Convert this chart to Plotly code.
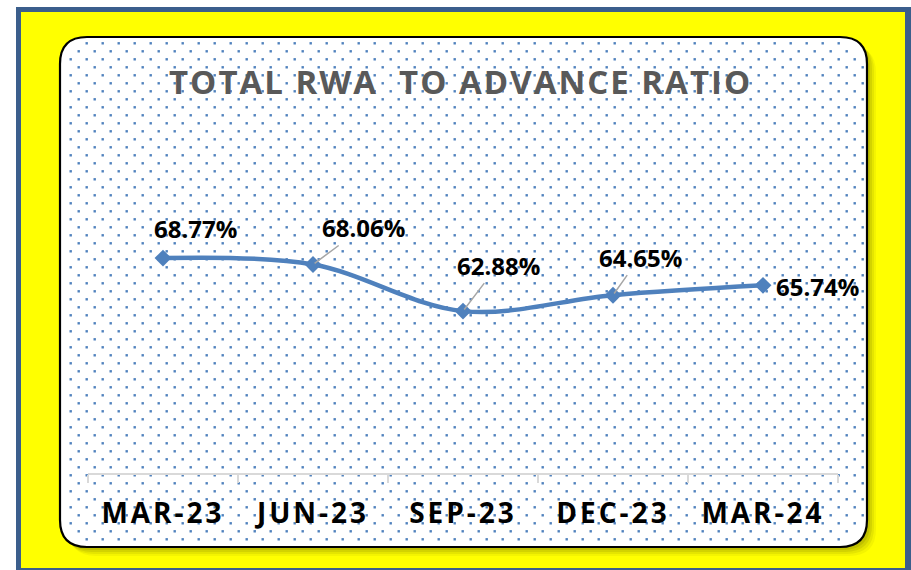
import numpy as np
import plotly.graph_objects as go

# ---- data ----
categories = ["MAR-23", "JUN-23", "SEP-23", "DEC-23", "MAR-24"]
ratio = [68.77, 68.06, 62.88, 64.65, 65.74]
value_labels = ["68.77%", "68.06%", "62.88%", "64.65%", "65.74%"]
chart_title = "TOTAL RWA  TO ADVANCE RATIO"

W, H = 911, 570
BLUE = "#4F81BD"


def rrect(x0, y0, x1, y1, r):
    return (f"M{x0+r},{y0} L{x1-r},{y0} Q{x1},{y0} {x1},{y0+r} L{x1},{y1-r} "
            f"Q{x1},{y1} {x1-r},{y1} L{x0+r},{y1} Q{x0},{y1} {x0},{y1-r} "
            f"L{x0},{y0+r} Q{x0},{y0} {x0+r},{y0} Z")


# panel geometry (pixels)
PX0, PY0, PX1, PY1, PR = 60, 37, 867, 547, 27


def in_panel(px, py, inset=3):
    if px < PX0 + inset or px > PX1 - inset or py < PY0 + inset or py > PY1 - inset:
        return False
    cx = PX0 + PR if px < PX0 + PR else (PX1 - PR if px > PX1 - PR else None)
    cy = PY0 + PR if py < PY0 + PR else (PY1 - PR if py > PY1 - PR else None)
    if cx is not None and cy is not None:
        return (px - cx) ** 2 + (py - cy) ** 2 <= (PR - inset) ** 2
    return True


# decorative dotted background pattern inside rounded panel
dot_x, dot_y = [], []
for k, yy in enumerate(np.arange(43.3, PY1, 8.0)):
    start = 6.7 if k % 2 == 0 else 14.7
    for xx in np.arange(start, PX1, 16.0):
        if in_panel(xx, yy):
            dot_x.append(float(xx))
            dot_y.append(float(yy))

fig = go.Figure()

fig.add_trace(go.Scatter(
    x=dot_x, y=dot_y, mode="markers", xaxis="x", yaxis="y",
    marker=dict(symbol="square", size=2.4, color=BLUE, line=dict(width=0)),
    hoverinfo="skip", showlegend=False))

fig.add_trace(go.Scatter(
    x=categories, y=ratio, mode="lines+markers", xaxis="x2", yaxis="y2",
    line=dict(color=BLUE, width=4.5, shape="spline", smoothing=1.0),
    marker=dict(symbol="diamond", size=13, color=BLUE),
    hoverinfo="skip", showlegend=False, cliponaxis=False))

shapes = [
    dict(type="rect", xref="x", yref="y", x0=16, x1=915, y0=7, y1=580,
         fillcolor="#3B5E8C", line=dict(width=0), layer="below"),
    dict(type="rect", xref="x", yref="y", x0=21, x1=905, y0=12, y1=568,
         fillcolor="#FFFF00", line=dict(width=0), layer="below"),
]
# soft shadow
for off, a in [(9, 0.06), (7, 0.08), (5, 0.10), (3, 0.12)]:
    shapes.append(dict(type="path", xref="x", yref="y",
                       path=rrect(PX0 + off, PY0 + off, PX1 + off, PY1 + off, PR),
                       fillcolor=f"rgba(60,60,0,{a})", line=dict(width=0), layer="below"))
shapes.append(dict(type="path", xref="x", yref="y",
                   path=rrect(PX0, PY0, PX1, PY1, PR),
                   fillcolor="white", line=dict(color="black", width=2.2), layer="below"))

annotations = [
    dict(xref="x", yref="y", x=460, y=81, showarrow=False,
         text=f'<span style="letter-spacing:2px">{chart_title}</span>',
         font=dict(family="Open Sans", size=33, color="#595959", weight="bold"),
         xanchor="center", yanchor="middle"),
]

# data labels: (dx, dy) pixel offsets of label centre from point, leader flag
label_offsets = [(32, -30, False), (50, -37, True), (35, -46, True), (27, -38, True), (54, 1, False)]
for cat, v, lab, (dx, dy, lead) in zip(categories, ratio, value_labels, label_offsets):
    if lead:
        annotations.append(dict(
            xref="x2", yref="y2", x=cat, y=v, text=lab, showarrow=True,
            ax=dx, ay=dy, arrowhead=0, arrowwidth=1.5, arrowcolor="#A6A6A6",
            standoff=2, startstandoff=0,
            font=dict(family="Open Sans", size=24, color="black", weight="bold")))
    else:
        annotations.append(dict(
            xref="x2", yref="y2", x=cat, y=v, text=lab, showarrow=False,
            xshift=dx, yshift=-dy,
            font=dict(family="Open Sans", size=24, color="black", weight="bold")))

tick_text = [f'<span style="letter-spacing:3px">{c}</span>' for c in categories]

fig.update_layout(
    template="none",
    width=W, height=H, margin=dict(l=0, r=0, t=0, b=0, pad=0), autosize=False,
    paper_bgcolor="white", plot_bgcolor="rgba(0,0,0,0)",
    showlegend=False, shapes=shapes, annotations=annotations,
    xaxis=dict(domain=[0, 1], range=[0, W], visible=False, fixedrange=True, automargin=False),
    yaxis=dict(domain=[0, 1], range=[H, 0], visible=False, fixedrange=True, automargin=False),
    xaxis2=dict(domain=[88 / W, 838 / W], anchor="y2", type="category",
                range=[-0.5, 4.5], autorange=False,
                showline=True, linecolor="#D9D9D9", linewidth=1.5,
                ticks="outside", ticklen=8, tickwidth=1.5, tickcolor="#D9D9D9",
                tickson="boundaries", showgrid=False, zeroline=False,
                tickvals=categories, ticktext=tick_text, ticklabelstandoff=15,
                tickfont=dict(family="Open Sans", size=28, color="black", weight="bold"),
                fixedrange=True, automargin=False),
    yaxis2=dict(domain=[1 - 473 / H, 1 - 202 / H], anchor="x2",
                range=[44.9, 75.0], autorange=False, visible=False,
                fixedrange=True, automargin=False),
)

fig.write_html(
    "out.html",
    config={"displayModeBar": False},
    post_script="document.body.style.margin='0';document.body.style.overflow='hidden';",
)
